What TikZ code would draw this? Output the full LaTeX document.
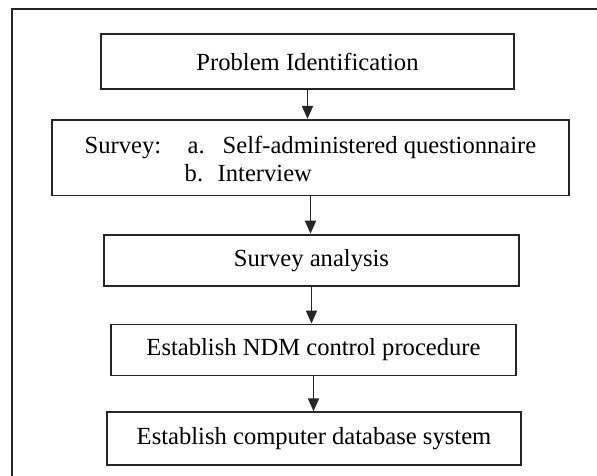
\documentclass[tikz,border=0pt]{standalone}
\usepackage{fontspec}
\setmainfont{Liberation Serif}
\usetikzlibrary{arrows.meta, positioning}
\tikzstyle{stage} = [
  rectangle,
  minimum width=206.5pt,
  minimum height=25.5pt,
  text centered,
  draw=black!85,
  line width=0.9pt,
  inner sep=0,
  font=\fontsize{12.3}{14}\selectfont
]
\tikzstyle{arrow} = [
  line width=0.8pt,
  draw=black!85,
  -{Triangle[length=6.5pt, width=5.5pt]}
]

\begin{document}
\begin{tikzpicture}[x=0.5pt, y=0.5pt]
      \useasboundingbox (0,0) rectangle (597,-475);
      \clip (0,0) rectangle (597,-475);
      % outer frame, only its left and top sides are on the page
      \draw [line width=1pt, black!85] (12,-480) -- (12,-9.5) -- (605,-9.5);

      \node [stage, minimum height=27.5pt] (problem) at (307.5,-61.5) {Problem Identification};
      \node [stage, below=14.5pt of problem, xshift=1.5pt, minimum width=258.5pt, minimum height=0pt, inner ysep=6.85pt, align=left] (survey) {\rule{0pt}{10pt}\makebox[51.5pt][l]{Survey:}\makebox[17.5pt][l]{a.}Self-administered questionnaire\\\hspace*{50pt}\makebox[16.5pt][l]{b.}Interview};
      \node [stage, below=18.65pt of survey, xshift=0.5pt, minimum width=207.5pt] (analysis) {Survey analysis};
      \node [stage, below=18.5pt of analysis, xshift=1pt, minimum width=202.5pt] (procedure) {Establish NDM control procedure};
      \node [stage, below=17.5pt of procedure, xshift=0.25pt, minimum width=207pt, minimum height=26.5pt] (database) {Establish computer database system};

      \draw [arrow] (problem.south) -- (problem.south |- survey.north);
      \draw [arrow] (survey.south) -- (survey.south |- analysis.north);
      \draw [arrow] (analysis.south) -- (analysis.south |- procedure.north);
      \draw [arrow] (procedure.south) -- (procedure.south |- database.north);

    \end{tikzpicture}
\end{document}
